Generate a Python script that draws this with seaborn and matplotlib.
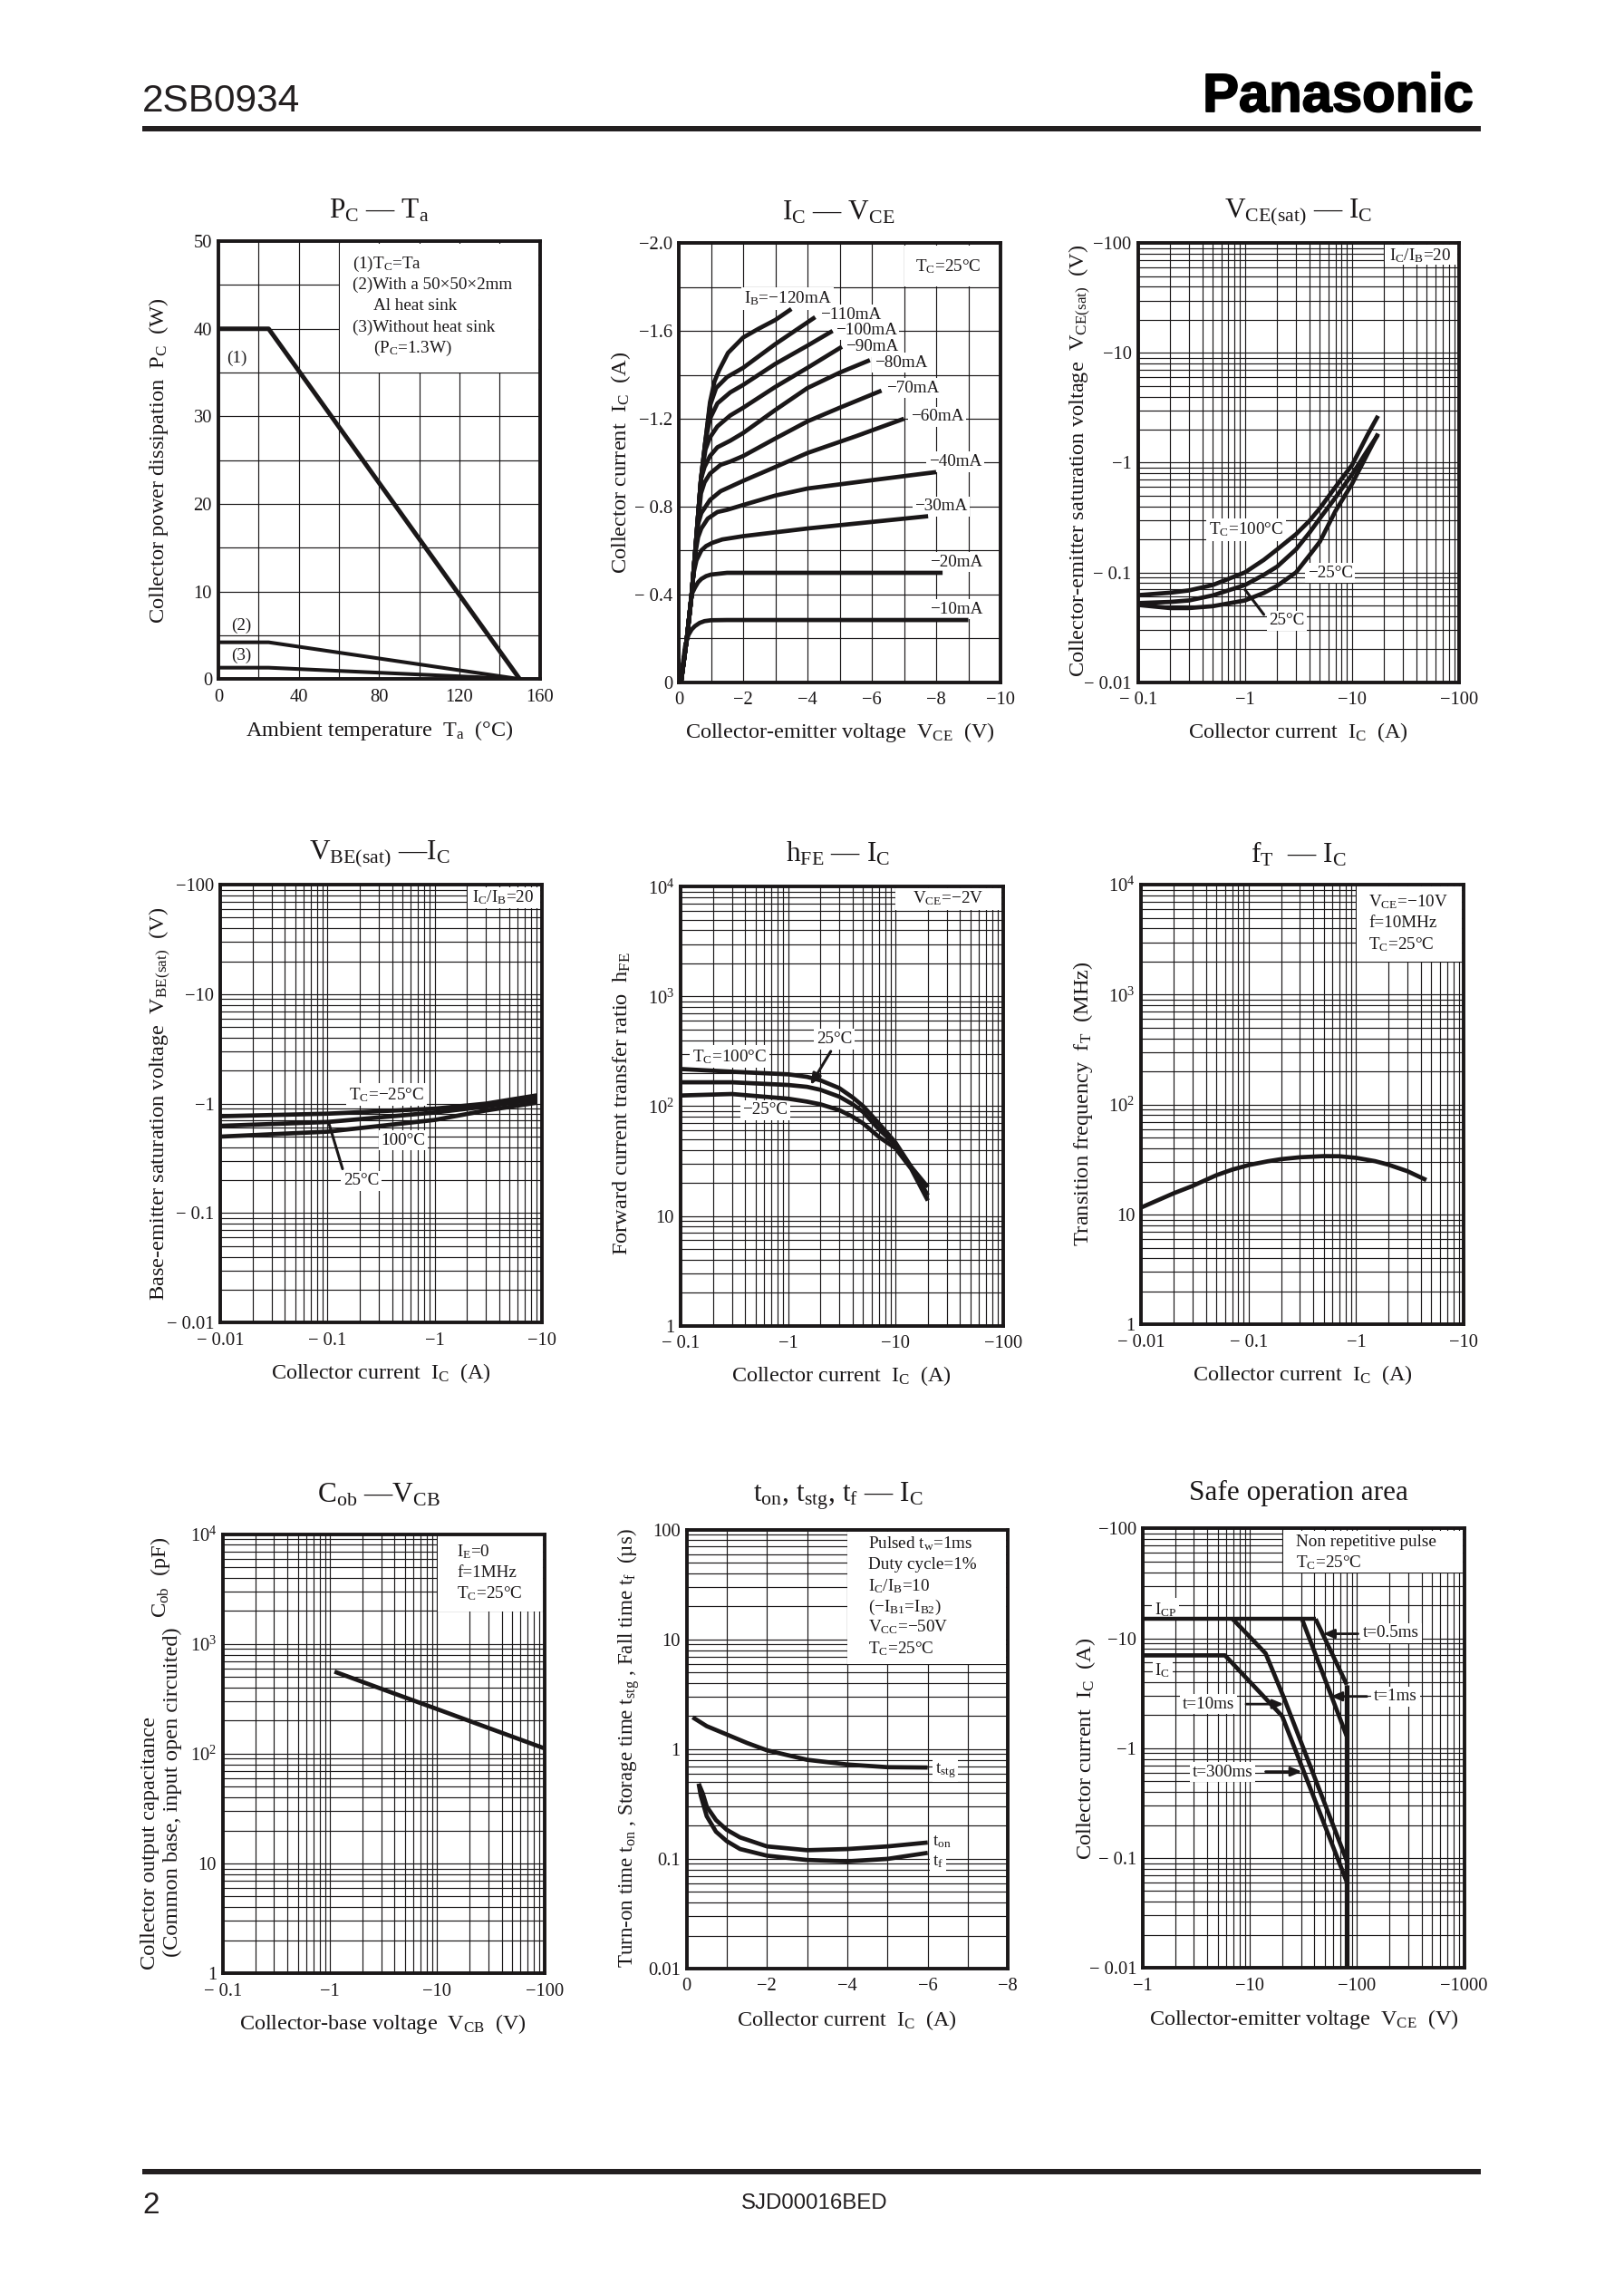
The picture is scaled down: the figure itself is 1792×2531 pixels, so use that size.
import numpy as np
import matplotlib
matplotlib.use("Agg")
import matplotlib.pyplot as plt
import matplotlib.patheffects as pe
from matplotlib.patches import Rectangle
from matplotlib.ticker import LogLocator, MultipleLocator, NullFormatter
import seaborn as sns

# ---------- data (magnitudes; axes are labelled negative) ----------
pc_ta = [0, 25, 150]
pc_1 = [40, 40, 0]
pc_2 = [4.2, 4.2, 0]
pc_3 = [1.3, 1.3, 0]

ic10_v = [0.07, 0.14, 0.2, 0.3, 0.4, 0.5, 0.65, 0.8, 1.0, 1.5, 9.0]
ic10_i = [0.0, 0.10, 0.165, 0.215, 0.24, 0.255, 0.27, 0.278, 0.282, 0.283, 0.283]
ic20_v = [0.07, 0.26, 0.4, 0.5, 0.6, 0.7, 0.85, 1.0, 1.5, 8.2]
ic20_i = [0.0, 0.21, 0.40, 0.43, 0.455, 0.47, 0.483, 0.49, 0.498, 0.498]
ic30_v = [0.07, 0.26, 0.4, 0.45, 0.55, 0.7, 0.85, 1.05, 1.35, 2.0, 4.0, 7.75]
ic30_i = [0.0, 0.21, 0.40, 0.49, 0.555, 0.60, 0.62, 0.635, 0.65, 0.665, 0.70, 0.756]
ic40_v = [0.07, 0.26, 0.4, 0.5, 0.6, 0.7, 0.9, 1.2, 1.5, 2.0, 3.0, 4.0, 6.0, 8.0]
ic40_i = [0.0, 0.21, 0.40, 0.575, 0.66, 0.70, 0.745, 0.775, 0.785, 0.807, 0.85, 0.882, 0.92, 0.957]
ic60_v = [0.07, 0.26, 0.4, 0.5, 0.6, 0.7, 0.97, 1.3, 1.6, 2.0, 3.0, 4.0, 5.5, 7.0]
ic60_i = [0.0, 0.21, 0.40, 0.575, 0.72, 0.77, 0.83, 0.87, 0.89, 0.917, 0.98, 1.044, 1.12, 1.20]
ic70_v = [0.07, 0.26, 0.4, 0.5, 0.69, 0.8, 0.97, 1.3, 1.6, 2.0, 3.0, 4.0, 5.0, 6.3]
ic70_i = [0.0, 0.21, 0.40, 0.575, 0.86, 0.91, 0.95, 0.99, 1.005, 1.03, 1.11, 1.188, 1.25, 1.328]
ic80_v = [0.07, 0.26, 0.4, 0.5, 0.69, 0.8, 0.97, 1.2, 1.6, 2.0, 3.0, 4.0, 5.0, 5.94]
ic80_i = [0.0, 0.21, 0.40, 0.575, 0.925, 0.98, 1.03, 1.07, 1.10, 1.135, 1.24, 1.34, 1.41, 1.467]
ic90_v = [0.07, 0.26, 0.4, 0.5, 0.69, 0.83, 0.97, 1.2, 1.6, 2.0, 3.0, 4.0, 5.07]
ic90_i = [0.0, 0.21, 0.40, 0.575, 0.925, 1.06, 1.115, 1.165, 1.215, 1.25, 1.345, 1.432, 1.528]
ic100_v = [0.07, 0.26, 0.4, 0.5, 0.69, 0.83, 0.97, 1.2, 1.6, 2.0, 3.0, 4.0, 4.78]
ic100_i = [0.0, 0.21, 0.40, 0.575, 0.925, 1.10, 1.20, 1.27, 1.32, 1.354, 1.45, 1.533, 1.60]
ic110_v = [0.07, 0.26, 0.4, 0.5, 0.69, 0.83, 0.97, 1.16, 1.5, 2.0, 3.0, 4.24]
ic110_i = [0.0, 0.21, 0.40, 0.575, 0.925, 1.10, 1.26, 1.34, 1.39, 1.432, 1.54, 1.663]
ic120_v = [0.07, 0.26, 0.4, 0.5, 0.69, 0.83, 0.97, 1.11, 1.25, 1.53, 2.0, 2.48, 3.0, 3.5]
ic120_i = [0.0, 0.21, 0.40, 0.575, 0.925, 1.10, 1.275, 1.37, 1.42, 1.50, 1.57, 1.61, 1.65, 1.70]

vce_ic = [0.1, 0.2, 0.3, 0.5, 1, 1.5, 2, 3, 4, 5, 7, 10, 14, 17.5]
vce_100 = [0.062, 0.0653, 0.0685, 0.0767, 0.1, 0.13, 0.162, 0.223, 0.295, 0.383, 0.6, 0.95, 1.8, 2.67]
vce_m25 = [0.0525, 0.0538, 0.0555, 0.0617, 0.0767, 0.095, 0.113, 0.162, 0.23, 0.31, 0.48, 0.78, 1.3, 1.8]
vce_25 = [0.0505, 0.0473, 0.0473, 0.0492, 0.0555, 0.065, 0.0755, 0.1, 0.143, 0.19, 0.362, 0.64, 1.21, 1.84]

vbe_ic = [0.01, 0.1, 1, 3, 9]
vbe_m25 = [0.767, 0.81, 0.90, 1.0, 1.19]
vbe_25 = [0.627, 0.68, 0.83, 0.94, 1.10]
vbe_100 = [0.50, 0.555, 0.71, 0.865, 1.02]

hfe_ic = [0.1, 0.3, 1, 1.5, 2, 3, 4, 5, 7, 10, 14, 20]
hfe_100 = [218, 206, 195, 185, 172, 146, 120, 100, 69.6, 46.6, 28, 18.3]
hfe_25 = [165, 165, 156, 150, 141, 122, 104, 88.6, 61.6, 44.6, 27.8, 15.4]
hfe_m25 = [125, 129, 117, 110, 104, 92, 80, 69.6, 52.5, 41.4, 26.9, 13.8]

ft_ic = [0.01, 0.02, 0.03, 0.05, 0.07, 0.1, 0.15, 0.2, 0.3, 0.5, 0.7, 1, 1.5, 2, 3, 4.5]
ft_val = [11.6, 15.6, 18.2, 22.8, 25.6, 28.2, 30.5, 31.9, 33.2, 34, 33.9, 32.8, 30.6, 28.4, 24.8, 20.6]

cob_v = [1.1, 3, 10, 30, 100]
cob_val = [560, 391, 255, 172, 112]

sw_ic_stg = [0.15, 0.5, 1, 1.5, 2, 3, 4, 5, 6]
sw_stg = [1.95, 1.62, 1.36, 1.14, 0.976, 0.80, 0.725, 0.685, 0.68]
sw_ic_on = [0.3, 0.4, 0.5, 0.73, 1, 1.33, 2, 3, 4, 5, 6]
sw_on = [0.484, 0.396, 0.30, 0.226, 0.184, 0.157, 0.13, 0.12, 0.123, 0.13, 0.141]
sw_ic_f = [0.3, 0.35, 0.5, 0.73, 1, 1.33, 2, 3, 4, 5, 6]
sw_f = [0.484, 0.38, 0.245, 0.177, 0.145, 0.123, 0.107, 0.0977, 0.095, 0.10, 0.1135]

soa_icp_v = [1, 41]
soa_icp_i = [15, 15]
soa_05_v = [41, 80]
soa_05_i = [15, 3.8]
soa_1_v = [30.6, 80]
soa_1_i = [15, 1.29]
soa_10_v = [6.9, 14, 20.7, 80]
soa_10_i = [15, 7.3, 2.9, 0.095]
soa_300_v = [1, 5.85, 20, 80]
soa_300_i = [7, 7, 1.96, 0.061]
soa_lim_v = [80, 80]
soa_lim_i = [3.8, 0.01]

dec2_x = [0.1, 1, 10, 100]
dec2_x_labels = ["− 0.1", "−1", "−10", "−100"]
dec3_x = [0.01, 0.1, 1, 10]
dec3_x_labels = ["− 0.01", "− 0.1", "−1", "−10"]
volt_y = [0.01, 0.1, 1, 10, 100]
volt_y_labels = ["− 0.01", "− 0.1", "−1", "−10", "−100"]
pow_y = [1, 10, 100, 1000, 10000]
pow_y_labels = ["1", "10", "$10^{2}$", "$10^{3}$", "$10^{4}$"]

# ---------- layout ----------
W, H = 1792, 2531
INK = "#1a1718"
sns.set_theme(style="white")
plt.rcParams["font.family"] = ["Liberation Serif", "DejaVu Serif"]
plt.rcParams["mathtext.fontset"] = "custom"
plt.rcParams["mathtext.rm"] = "Liberation Serif"
plt.rcParams["mathtext.it"] = "Liberation Serif:italic"
plt.rcParams["mathtext.bf"] = "Liberation Serif:bold"
plt.rcParams["mathtext.default"] = "rm"
plt.rcParams["text.color"] = INK
plt.rcParams["axes.labelcolor"] = INK
plt.rcParams["xtick.color"] = INK
plt.rcParams["ytick.color"] = INK

fig = plt.figure(figsize=(W / 100, H / 100), dpi=100, facecolor="white")

COL = [130, 650, 1170]
ROW = [190, 900, 1620]
SY = 2.364


def zxy(c, r, zx, zy):
    return COL[c] + zx / 3, ROW[r] + zy / SY


def panel(c, r, zl, zr, zt, zb, title, tz, xlabel, xz, ylabel, yz, ysize=17.6):
    l, t = zxy(c, r, zl, zt)
    rr, b = zxy(c, r, zr, zb)
    ax = fig.add_axes([l / W, 1 - b / H, (rr - l) / W, (b - t) / H])
    ax.set_axisbelow(True)
    for s in ax.spines.values():
        s.set_linewidth(2.8)
        s.set_color(INK)
        s.set_visible(True)
    def frac(z):
        px, py = zxy(c, r, z[0], z[1])
        return (px - l) / (rr - l), (b - py) / (b - t)
    fx, fy = frac(tz)
    ax.set_title(title, x=fx, y=fy, va="center", ha="center", fontsize=22.5, color=INK, pad=0)
    ax.set_xlabel(xlabel, fontsize=17.4)
    fx, fy = frac(xz)
    ax.xaxis.set_label_coords(fx, fy)
    ax.xaxis.label.set_va("center")
    ax.set_ylabel(ylabel, fontsize=ysize)
    fx, fy = frac(yz)
    ax.yaxis.set_label_coords(fx, fy)
    ax.yaxis.label.set_va("center")
    ax.frac = frac
    return ax


def finish(ax, xlim, ylim, xt, xl, yt, yl, xlog=True, ylog=True, xstep=None, ystep=None):
    ax.set_xscale("log" if xlog else "linear")
    ax.set_yscale("log" if ylog else "linear")
    ax.set_xlim(*xlim)
    ax.set_ylim(*ylim)
    ax.set_xticks(xt, labels=xl)
    ax.set_yticks(yt, labels=yl)
    subs = np.arange(2, 10)
    for axis, log, step in ((ax.xaxis, xlog, xstep), (ax.yaxis, ylog, ystep)):
        if log:
            axis.set_minor_locator(LogLocator(base=10, subs=subs, numticks=30))
        else:
            axis.set_minor_locator(MultipleLocator(step))
        axis.set_minor_formatter(NullFormatter())
    ax.grid(True, which="both", color=INK, linewidth=0.85)
    ax.tick_params(which="both", length=0, labelsize=14.8)
    ax.tick_params(axis="x", which="major", pad=7.5)
    ax.tick_params(axis="y", which="major", pad=5)


def curve(ax, x, y, lw=3.4):
    sns.lineplot(x=x, y=y, ax=ax, color=INK, linewidth=lw, estimator=None, sort=False,
                 errorbar=None, legend=False, solid_capstyle="butt", solid_joinstyle="round")


def box(ax, zl, zt, zr, zb):
    x0, y0 = ax.frac((zl, zb))
    x1, y1 = ax.frac((zr, zt))
    ax.add_patch(Rectangle((x0, y0), x1 - x0, y1 - y0, transform=ax.transAxes,
                           fc="white", ec="none", zorder=1.2))


def note(c, r, zx, zy, s, ha="center", bg=False, size=13.8):
    # drawn above the grid but under the curves, so a white label only interrupts grid lines
    px, py = zxy(c, r, zx, zy)
    kw = {}
    if bg:
        kw["bbox"] = dict(fc="white", ec="none", pad=2.0)
    ax.text(px / W, 1 - py / H, s, transform=fig.transFigure, ha=ha, va="center",
            fontsize=size, color=INK, zorder=1.5, clip_on=False, **kw)


def leader(ax, start, end, head=False, lw=2.0):
    style = "-|>,head_length=0.6,head_width=0.25" if head else "-"
    ax.annotate("", xy=end, xytext=start, zorder=6,
                arrowprops=dict(arrowstyle=style, color=INK, lw=lw, shrinkA=0, shrinkB=0))


TC = "T$_{\\mathrm{C}}$"
IB = "I$_{\\mathrm{B}}$"
IC = "I$_{\\mathrm{C}}$"
ICIB20 = IC + "/" + IB + "=20"
CUR_LABEL = "Collector current  I$_{\\mathrm{C}}$  (A)"

# ---------- 1: Pc - Ta ----------
ax = panel(0, 0, 333, 1397, 180, 1322, "P$_{\\mathrm{C}}$ — T$_{\\mathrm{a}}$", (866, 100),
           "Ambient temperature  T$_{\\mathrm{a}}$  (°C)", (867, 1457),
           "Collector power dissipation  P$_{\\mathrm{C}}$  (W)", (135, 752))
curve(ax, pc_ta, pc_1, 3.6)
curve(ax, pc_ta, pc_2, 2.9)
curve(ax, pc_ta, pc_3, 2.9)
finish(ax, (0, 160), (0, 50), [0, 40, 80, 120, 160], ["0", "40", "80", "120", "160"],
       [0, 10, 20, 30, 40, 50], ["0", "10", "20", "30", "40", "50"],
       xlog=False, ylog=False, xstep=20, ystep=5)
box(ax, 735, 186, 1392, 522)
note(0, 0, 778, 240, "(1)" + TC + "=Ta", ha="left")
note(0, 0, 778, 295, "(2)With a 50×50×2mm", ha="left")
note(0, 0, 847, 349, "Al heat sink", ha="left")
note(0, 0, 778, 404, "(3)Without heat sink", ha="left")
note(0, 0, 847, 460, "(P$_{\\mathrm{C}}$=1.3W)", ha="left")
note(0, 0, 395, 485, "(1)")
note(0, 0, 410, 1182, "(2)")
note(0, 0, 408, 1262, "(3)")

# ---------- 2: Ic - Vce ----------
ax = panel(1, 0, 297, 1362, 185, 1330, "I$_{\\mathrm{C}}$ — V$_{\\mathrm{CE}}$", (826, 105),
           "Collector-emitter voltage  V$_{\\mathrm{CE}}$  (V)", (829, 1462),
           CUR_LABEL, (105, 757))
for vv, ii in ((ic10_v, ic10_i), (ic20_v, ic20_i), (ic30_v, ic30_i), (ic40_v, ic40_i),
               (ic60_v, ic60_i), (ic70_v, ic70_i), (ic80_v, ic80_i), (ic90_v, ic90_i),
               (ic100_v, ic100_i), (ic110_v, ic110_i), (ic120_v, ic120_i)):
    curve(ax, vv, ii)
finish(ax, (0, 10), (0, 2), [0, 2, 4, 6, 8, 10], ["0", "−2", "−4", "−6", "−8", "−10"],
       [0, 0.4, 0.8, 1.2, 1.6, 2.0], ["0", "− 0.4", "− 0.8", "−1.2", "−1.6", "−2.0"],
       xlog=False, ylog=False, xstep=1, ystep=0.2)
box(ax, 1045, 191, 1357, 299)
note(1, 0, 1190, 247, TC + "=25°C")
note(1, 0, 512, 330, IB + "=−120mA", ha="left", bg=True)
note(1, 0, 765, 372, "−110mA", ha="left", bg=True)
note(1, 0, 815, 412, "−100mA", ha="left", bg=True)
note(1, 0, 850, 455, "−90mA", ha="left", bg=True)
note(1, 0, 945, 497, "−80mA", ha="left", bg=True)
note(1, 0, 985, 563, "−70mA", ha="left", bg=True)
note(1, 0, 1065, 638, "−60mA", ha="left", bg=True)
note(1, 0, 1125, 755, "−40mA", ha="left", bg=True)
note(1, 0, 1078, 872, "−30mA", ha="left", bg=True)
note(1, 0, 1128, 1017, "−20mA", ha="left", bg=True)
note(1, 0, 1128, 1140, "−10mA", ha="left", bg=True)

# ---------- 3: Vce(sat) - Ic ----------
ax = panel(2, 0, 257, 1320, 185, 1330, "V$_{\\mathrm{CE(sat)}}$ — I$_{\\mathrm{C}}$", (789, 105),
           CUR_LABEL, (787, 1462),
           "Collector-emitter saturation voltage  V$_{\\mathrm{CE(sat)}}$  (V)", (65, 752))
curve(ax, vce_ic, vce_100)
curve(ax, vce_ic, vce_m25)
curve(ax, vce_ic, vce_25)
finish(ax, (0.1, 100), (0.01, 100), dec2_x, dec2_x_labels, volt_y, volt_y_labels)
box(ax, 1073, 190, 1314, 240)
note(2, 0, 1192, 218, ICIB20)
note(2, 0, 615, 932, TC + "=100°C", bg=True)
note(2, 0, 893, 1045, "−25°C", bg=True)
note(2, 0, 750, 1170, "25°C", bg=True)
leader(ax, (1.5, 0.0413), (1.0, 0.0696), lw=2.2)

# ---------- 4: Vbe(sat) - Ic ----------
ax = panel(0, 1, 340, 1403, 180, 1322, "V$_{\\mathrm{BE(sat)}}$ —I$_{\\mathrm{C}}$", (866, 100),
           CUR_LABEL, (872, 1455),
           "Base-emitter saturation voltage  V$_{\\mathrm{BE(sat)}}$  (V)", (140, 751))
curve(ax, vbe_ic, vbe_m25)
curve(ax, vbe_ic, vbe_25)
curve(ax, vbe_ic, vbe_100)
finish(ax, (0.01, 10), (0.01, 100), dec3_x, dec3_x_labels, volt_y, volt_y_labels)
box(ax, 1158, 186, 1397, 240)
note(0, 1, 1275, 212, ICIB20)
note(0, 1, 890, 728, TC + "=−25°C", bg=True)
note(0, 1, 945, 847, "100°C", bg=True)
note(0, 1, 805, 952, "25°C", bg=True)
leader(ax, (0.138, 0.254), (0.102, 0.68), lw=2.2)

# ---------- 5: hFE - Ic ----------
ax = panel(1, 1, 303, 1370, 185, 1330, "h$_{\\mathrm{FE}}$ — I$_{\\mathrm{C}}$", (825, 100),
           CUR_LABEL, (835, 1460),
           "Forward current transfer ratio  h$_{\\mathrm{FE}}$", (108, 752))
curve(ax, hfe_ic, hfe_100)
curve(ax, hfe_ic, hfe_25)
curve(ax, hfe_ic, hfe_m25)
finish(ax, (0.1, 100), (1, 10000), dec2_x, dec2_x_labels, pow_y, pow_y_labels)
box(ax, 1014, 190, 1364, 247)
note(1, 1, 1188, 215, "V$_{\\mathrm{CE}}$=−2V")
note(1, 1, 465, 628, TC + "=100°C", bg=True)
note(1, 1, 812, 583, "25°C", bg=True)
note(1, 1, 583, 768, "−25°C", bg=True)
leader(ax, (2.5, 316), (1.62, 156), head=True, lw=2.2)

# ---------- 6: fT - Ic ----------
ax = panel(2, 1, 268, 1335, 180, 1327, "f$_{\\mathrm{T}}$  — I$_{\\mathrm{C}}$", (787, 100),
           CUR_LABEL, (801, 1458),
           "Transition frequency  f$_{\\mathrm{T}}$  (MHz)", (75, 752))
curve(ax, ft_ic, ft_val, 3.4)
finish(ax, (0.01, 10), (1, 10000), dec3_x, dec3_x_labels, pow_y, pow_y_labels)
box(ax, 981, 185, 1330, 380)
note(2, 1, 1020, 225, "V$_{\\mathrm{CE}}$=−10V", ha="left")
note(2, 1, 1020, 280, "f=10MHz", ha="left")
note(2, 1, 1020, 335, TC + "=25°C", ha="left")

# ---------- 7: Cob - Vcb ----------
ax = panel(0, 2, 348, 1412, 172, 1317, "C$_{\\mathrm{ob}}$ —V$_{\\mathrm{CB}}$", (863, 70),
           "Collector-base voltage  V$_{\\mathrm{CB}}$  (V)", (878, 1450),
           "Collector output capacitance", (105, 978))
curve(ax, cob_v, cob_val, 3.4)
finish(ax, (0.1, 100), (1, 10000), dec2_x, dec2_x_labels, pow_y, pow_y_labels)
box(ax, 1059, 176, 1407, 373)
note(0, 2, 1122, 218, "I$_{\\mathrm{E}}$=0", ha="left")
note(0, 2, 1122, 272, "f=1MHz", ha="left")
note(0, 2, 1122, 326, TC + "=25°C", ha="left")
for zx, zy, s in ((180, 845, "(Common base, input open circuited)"),
                  (142, 285, "C$_{\\mathrm{ob}}$  (pF)")):
    px, py = zxy(0, 2, zx, zy)
    fig.text(px / W, 1 - py / H, s, rotation=90, ha="center", va="center", fontsize=17.6, color=INK)

# ---------- 8: switching times ----------
ax = panel(1, 2, 323, 1387, 160, 1305,
           "t$_{\\mathrm{on}}$, t$_{\\mathrm{stg}}$, t$_{\\mathrm{f}}$ — I$_{\\mathrm{C}}$", (826, 72),
           CUR_LABEL, (852, 1440),
           "Turn-on time t$_{\\mathrm{on}}$ , Storage time t$_{\\mathrm{stg}}$ , Fall time t$_{\\mathrm{f}}$  (µs)",
           (130, 730), ysize=16.6)
curve(ax, sw_ic_stg, sw_stg)
curve(ax, sw_ic_on, sw_on)
curve(ax, sw_ic_f, sw_f)
finish(ax, (0, 8), (0.01, 100), [0, 2, 4, 6, 8], ["0", "−2", "−4", "−6", "−8"],
       [0.01, 0.1, 1, 10, 100], ["0.01", "0.1", "1", "10", "100"], xlog=False, xstep=1)
box(ax, 856, 165, 1381, 510)
note(1, 2, 925, 197, "Pulsed t$_{\\mathrm{w}}$=1ms", ha="left")
note(1, 2, 925, 252, "Duty cycle=1%", ha="left")
note(1, 2, 925, 307, IC + "/" + IB + "=10", ha="left")
note(1, 2, 925, 362, "(−I$_{\\mathrm{B1}}$=I$_{\\mathrm{B2}}$)", ha="left")
note(1, 2, 925, 415, "V$_{\\mathrm{CC}}$=−50V", ha="left")
note(1, 2, 925, 470, TC + "=25°C", ha="left")
note(1, 2, 1180, 788, "t$_{\\mathrm{stg}}$", bg=True)
note(1, 2, 1168, 975, "t$_{\\mathrm{on}}$", bg=True)
note(1, 2, 1155, 1027, "t$_{\\mathrm{f}}$", bg=True)

# ---------- 9: safe operation area ----------
ax = panel(2, 2, 273, 1337, 157, 1303, "Safe operation area", (788, 65),
           "Collector-emitter voltage  V$_{\\mathrm{CE}}$  (V)", (806, 1437),
           CUR_LABEL, (85, 732))
curve(ax, soa_icp_v, soa_icp_i, 3.2)
curve(ax, soa_05_v, soa_05_i, 3.4)
curve(ax, soa_1_v, soa_1_i, 3.4)
curve(ax, soa_10_v, soa_10_i, 3.4)
curve(ax, soa_300_v, soa_300_i, 3.4)
curve(ax, soa_lim_v, soa_lim_i, 3.8)
finish(ax, (1, 1000), (0.01, 100), [1, 10, 100, 1000], ["−1", "−10", "−100", "−1000"],
       volt_y, volt_y_labels)
box(ax, 738, 162, 1332, 272)
note(2, 2, 780, 192, "Non repetitive pulse", ha="left")
note(2, 2, 780, 247, TC + "=25°C", ha="left")
note(2, 2, 348, 368, "I$_{\\mathrm{CP}}$", bg=True)
note(2, 2, 338, 527, IC, bg=True)
note(2, 2, 1095, 430, "t=0.5ms", bg=True)
note(2, 2, 1110, 595, "t=1ms", bg=True)
note(2, 2, 490, 615, "t=10ms", bg=True)
note(2, 2, 538, 792, "t=300ms", bg=True)
leader(ax, (102, 11), (48.2, 11), head=True)
leader(ax, (123.6, 2.96), (56.7, 2.96), head=True)
leader(ax, (9.2, 2.52), (20.7, 2.52), head=True)
leader(ax, (14, 0.612), (30.6, 0.612), head=True)

# ---------- page furniture ----------
SANS = ["Liberation Sans", "DejaVu Sans"]
for y0, y1 in ((139, 145), (2393, 2399)):
    fig.add_artist(Rectangle((157 / W, 1 - y1 / H), (1634 - 157) / W, (y1 - y0) / H,
                             transform=fig.transFigure, fc="#231f20", ec="none"))
fig.text(157 / W, 1 - 123 / H, "2SB0934", family=SANS, fontsize=30.5, ha="left", va="baseline",
         color="#231f20")
fig.text(1626 / W, 1 - 123 / H, "Panasonic", family=SANS, fontweight="bold", fontsize=43,
         ha="right", va="baseline", color="black",
         path_effects=[pe.withStroke(linewidth=1.3, foreground="black")])
fig.text(157 / W, 1 - 2442 / H, "2", family=SANS, fontsize=24, ha="left", va="baseline",
         color="#231f20")
fig.text(899 / W, 1 - 2437 / H, "SJD00016BED", family=SANS, fontsize=17.3, ha="center",
         va="baseline", color="#231f20")

fig.savefig("out.png", dpi=100, facecolor="white")
